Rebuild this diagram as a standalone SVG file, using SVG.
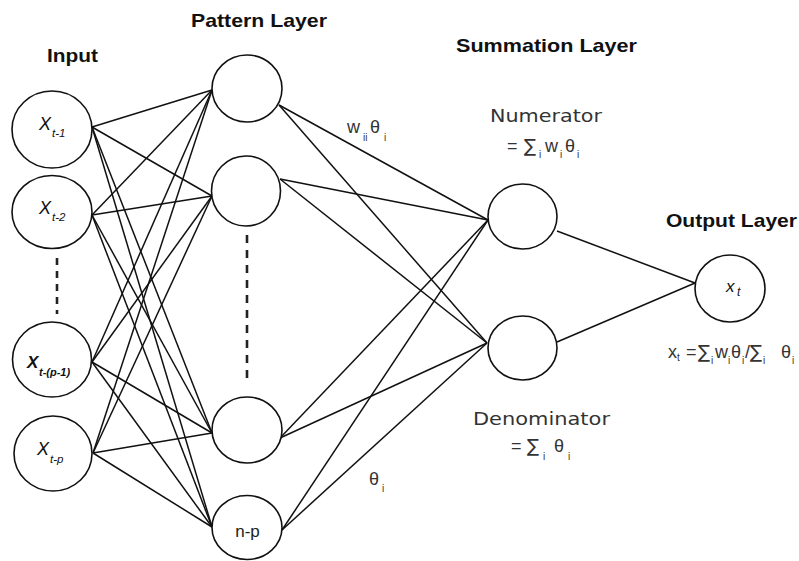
<svg xmlns="http://www.w3.org/2000/svg" width="799" height="561" viewBox="0 0 799 561">
<style>
.node{fill:#fff;stroke:#111;stroke-width:1.6}
.edge{stroke:#111;stroke-width:1.5;fill:none}
.dash{stroke:#222;stroke-width:2.6;fill:none}
.head{font-family:"Liberation Sans",Arial,sans-serif;font-weight:bold;font-size:19px;fill:#111}
.lbl{font-family:"DejaVu Sans","Liberation Sans",sans-serif;font-size:18px;fill:#333}
.fx{font-family:"Liberation Sans",Arial,sans-serif;font-size:18px;fill:#333}
.sg{font-family:"DejaVu Sans",sans-serif;font-size:18px}
.sub{font-size:10px}
.xi{font-family:"Liberation Sans",Arial,sans-serif;font-style:italic;fill:#111}
</style>
<rect width="799" height="561" fill="#fff"/>
<g id="connectors">
<line class="edge" x1="92" y1="127" x2="212" y2="90"/>
<line class="edge" x1="92" y1="127" x2="212" y2="196"/>
<line class="edge" x1="92" y1="127" x2="212" y2="433"/>
<line class="edge" x1="92" y1="127" x2="212" y2="527"/>
<line class="edge" x1="92" y1="215" x2="212" y2="90"/>
<line class="edge" x1="92" y1="215" x2="212" y2="196"/>
<line class="edge" x1="92" y1="215" x2="212" y2="433"/>
<line class="edge" x1="92" y1="215" x2="212" y2="527"/>
<line class="edge" x1="92" y1="362" x2="212" y2="90"/>
<line class="edge" x1="92" y1="362" x2="212" y2="196"/>
<line class="edge" x1="92" y1="362" x2="212" y2="433"/>
<line class="edge" x1="92" y1="362" x2="212" y2="527"/>
<line class="edge" x1="93" y1="453" x2="212" y2="90"/>
<line class="edge" x1="93" y1="453" x2="212" y2="196"/>
<line class="edge" x1="93" y1="453" x2="212" y2="433"/>
<line class="edge" x1="93" y1="453" x2="212" y2="527"/>
<line class="edge" x1="279" y1="105" x2="488" y2="220"/>
<line class="edge" x1="279" y1="105" x2="487" y2="343"/>
<line class="edge" x1="280" y1="179" x2="488" y2="220"/>
<line class="edge" x1="280" y1="179" x2="487" y2="343"/>
<line class="edge" x1="280" y1="438" x2="488" y2="220"/>
<line class="edge" x1="280" y1="438" x2="487" y2="343"/>
<line class="edge" x1="282" y1="530" x2="488" y2="220"/>
<line class="edge" x1="282" y1="530" x2="487" y2="343"/>
<line class="edge" x1="557" y1="231" x2="695" y2="283"/>
<line class="edge" x1="557" y1="342" x2="695" y2="283"/>
<line class="dash" x1="57" y1="258" x2="57" y2="314" stroke-dasharray="7 6"/>
<line class="dash" x1="247" y1="235" x2="247" y2="383" stroke-dasharray="8 7"/>
</g>
<g id="in1"><ellipse class="node" cx="52" cy="129.5" rx="40" ry="38.5"/><text class="xi" x="39" y="130" font-size="18">X<tspan x="52" y="137" font-size="11.5">t-1</tspan></text></g>
<g id="in2"><ellipse class="node" cx="52" cy="212" rx="40" ry="36.5"/><text class="xi" x="39" y="214" font-size="18">X<tspan x="52" y="221" font-size="11.5">t-2</tspan></text></g>
<g id="in3"><ellipse class="node" cx="52" cy="359.5" rx="39.5" ry="37.5"/><text class="xi" x="27" y="368" font-size="17" font-weight="bold">X<tspan x="39" y="376" font-size="11">t-(p-1)</tspan></text></g>
<g id="in4"><ellipse class="node" cx="53" cy="453.5" rx="39" ry="37.5"/><text class="xi" x="37" y="455" font-size="18">X<tspan x="50" y="463" font-size="11.5">t-p</tspan></text></g>
<g id="pat1"><ellipse class="node" cx="247" cy="88.5" rx="35" ry="33.5"/></g>
<g id="pat2"><ellipse class="node" cx="246" cy="191" rx="34.5" ry="35"/></g>
<g id="pat3"><ellipse class="node" cx="247" cy="430" rx="35" ry="33"/></g>
<g id="pat4"><ellipse class="node" cx="247" cy="527.5" rx="35" ry="32"/><text x="247.5" y="537" text-anchor="middle" font-family="'Liberation Sans',Arial,sans-serif" font-size="17" fill="#222">n-p</text></g>
<g id="sum1"><ellipse class="node" cx="522.5" cy="216.5" rx="34.5" ry="32.5"/></g>
<g id="sum2"><ellipse class="node" cx="522.5" cy="348" rx="34.5" ry="32"/></g>
<g id="out"><ellipse class="node" cx="730" cy="288.5" rx="35" ry="33.5"/><text class="xi" x="726" y="292" font-size="17">x<tspan x="737" y="296" font-size="12">t</tspan></text></g>
<g id="labels">
<text class="head" x="47" y="62" textLength="51" lengthAdjust="spacingAndGlyphs">Input</text>
<text class="head" x="191" y="27" textLength="136" lengthAdjust="spacingAndGlyphs">Pattern Layer</text>
<text class="head" x="456" y="52" textLength="181" lengthAdjust="spacingAndGlyphs">Summation Layer</text>
<text class="head" x="666" y="227" textLength="131" lengthAdjust="spacingAndGlyphs">Output Layer</text>
<text class="lbl" x="490" y="122" textLength="112" lengthAdjust="spacingAndGlyphs">Numerator</text>
<text class="fx" x="507" y="152">=<tspan class="sg" x="524">∑</tspan><tspan class="sub" x="539" y="158">i</tspan><tspan x="545" y="152">w</tspan><tspan class="sub" x="560" y="158">i</tspan><tspan x="565" y="152">θ</tspan><tspan class="sub" x="577" y="158">i</tspan></text>
<text class="fx" x="347" y="133">w<tspan class="sub" x="363" y="141">ii</tspan><tspan x="370" y="133">θ</tspan><tspan class="sub" x="384" y="141">i</tspan></text>
<text class="lbl" x="473" y="425" textLength="137" lengthAdjust="spacingAndGlyphs">Denominator</text>
<text class="fx" x="511" y="452">=<tspan class="sg" x="527">∑</tspan><tspan class="sub" x="543" y="460">i</tspan><tspan x="554" y="452">θ</tspan><tspan class="sub" x="568" y="460">i</tspan></text>
<text class="fx" x="369" y="485">θ<tspan class="sub" x="382" y="492">i</tspan></text>
<text class="fx" x="668" y="358" font-size="17">x<tspan font-size="10" x="677" y="361">t</tspan><tspan x="686" y="358">=</tspan><tspan class="sg" font-size="17" x="698">∑</tspan><tspan class="sub" x="711" y="364">i</tspan><tspan x="715" y="358">w</tspan><tspan class="sub" x="728" y="364">i</tspan><tspan x="731" y="358">θ</tspan><tspan class="sub" x="742" y="364">i</tspan><tspan x="745" y="358">/</tspan><tspan class="sg" font-size="17" x="750">∑</tspan><tspan class="sub" x="763" y="364">i</tspan><tspan x="781" y="358">θ</tspan><tspan class="sub" x="792" y="364">i</tspan></text>
</g>
</svg>
